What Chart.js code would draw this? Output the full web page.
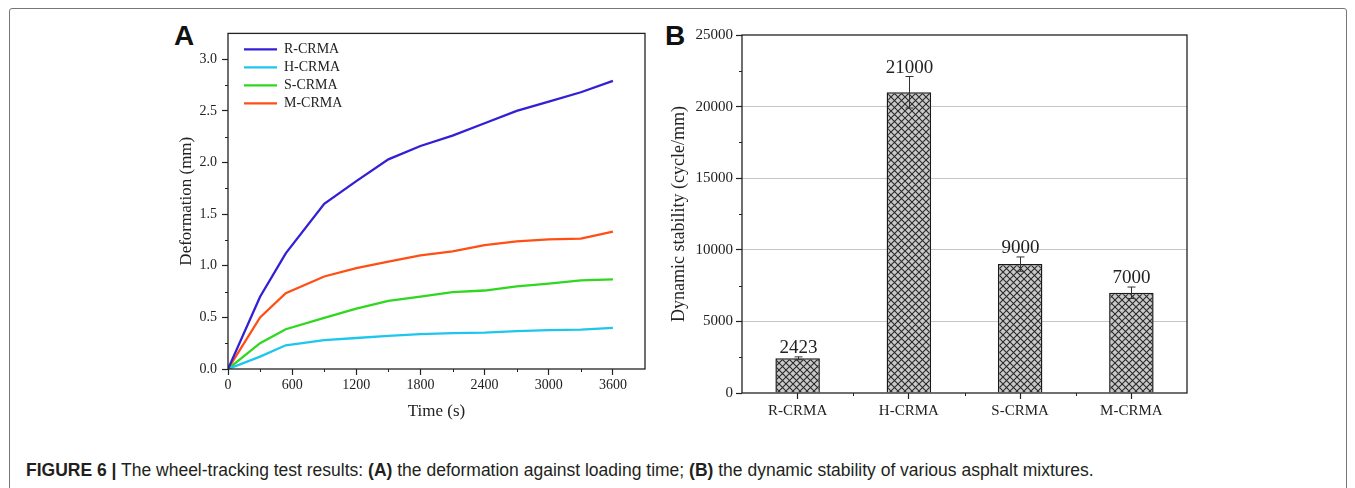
<!DOCTYPE html>
<html>
<head>
<meta charset="utf-8">
<script src="https://cdn.jsdelivr.net/npm/chart.js@4.4.0/dist/chart.umd.min.js"></script>
<style>
  body { margin: 0; width: 1355px; height: 488px; background: #fff; position: relative; overflow: hidden; font-family: "Liberation Sans", Arial, sans-serif; }
  #frame { position: absolute; left: 9px; top: 8px; width: 1336px; height: 500px; border: 1px solid #777; border-radius: 3px; }
  .panel { position: absolute; font: bold 28px/28px "Liberation Sans", Arial, sans-serif; color: #111; }
  .wrap { position: absolute; }
  #caption { position: absolute; left: 26px; top: 462px; font-size: 17.5px; line-height: 17.5px; color: #231f20; white-space: nowrap; }
</style>
</head>
<body>
<div id="frame"></div>
<div class="panel" style="left:174px;top:22px">A</div>
<div class="panel" style="left:665px;top:22px">B</div>
<div class="wrap" style="left:150px;top:20px"><canvas id="chartA" width="510" height="415"></canvas></div>
<div class="wrap" style="left:660px;top:20px"><canvas id="chartB" width="540" height="415"></canvas></div>
<div id="caption"><b>FIGURE 6 |</b> The wheel-tracking test results: <b>(A)</b> the deformation against loading time; <b>(B)</b> the dynamic stability of various asphalt mixtures.</div>
<script>
// panel A: deformation vs time
const times = [0, 300, 540, 900, 1200, 1500, 1800, 2100, 2400, 2700, 3000, 3300, 3600];
const rCrma = [0, 0.70, 1.12, 1.60, 1.82, 2.03, 2.16, 2.26, 2.38, 2.50, 2.59, 2.68, 2.79];
const hCrma = [0, 0.12, 0.23, 0.28, 0.30, 0.32, 0.337, 0.347, 0.353, 0.366, 0.376, 0.382, 0.398];
const sCrma = [0, 0.25, 0.385, 0.495, 0.585, 0.66, 0.70, 0.745, 0.76, 0.80, 0.826, 0.858, 0.867];
const mCrma = [0, 0.50, 0.735, 0.896, 0.976, 1.04, 1.10, 1.14, 1.20, 1.236, 1.256, 1.262, 1.33];
const timeTicks = [0, 600, 1200, 1800, 2400, 3000, 3600];
const timeMinor = [300, 900, 1500, 2100, 2700, 3300];
const deformTicks = [0, 0.5, 1.0, 1.5, 2.0, 2.5, 3.0];
const deformMinor = [0.25, 0.75, 1.25, 1.75, 2.25, 2.75];

// panel B: dynamic stability
const mixtures = ["R-CRMA", "H-CRMA", "S-CRMA", "M-CRMA"];
const stability = [2423, 21000, 9000, 7000];
const stabilityErr = [100, 1100, 500, 400];
const stabilityTicks = [0, 5000, 10000, 15000, 20000, 25000];
const stabilityMinor = [2500, 7500, 12500, 17500, 22500];

const serif = "'Liberation Serif', 'Times New Roman', serif";
const ink = "#222";

const toPoints = (arr) => arr.map((v, i) => ({ x: times[i], y: v }));
const fixTicks = (list) => (s) => { s.ticks = list.map((v) => ({ value: v })); };

// box around the plot + short minor ticks
const frameTicks = {
  id: "frameTicks",
  afterDraw(chart, args, opts) {
    const { ctx, chartArea: a, scales } = chart;
    ctx.save();
    ctx.strokeStyle = ink;
    ctx.lineWidth = 1.3;
    ctx.strokeRect(a.left, a.top, a.right - a.left, a.bottom - a.top);
    ctx.lineWidth = 1;
    ctx.beginPath();
    (opts.minorX || []).forEach((v) => {
      const x = Math.round(scales.x.getPixelForValue(v)) + 0.5;
      ctx.moveTo(x, a.bottom);
      ctx.lineTo(x, a.bottom + 3);
    });
    (opts.minorY || []).forEach((v) => {
      const y = Math.round(scales.y.getPixelForValue(v)) + 0.5;
      ctx.moveTo(a.left, y);
      ctx.lineTo(a.left - 3, y);
    });
    ctx.stroke();
    ctx.restore();
  },
};

// move legend to the upper left inside plot
const legendSpot = {
  id: "legendSpot",
  afterLayout(chart) {
    const lg = chart.legend;
    const a = chart.chartArea;
    lg.left = a.left + 12;
    lg.top = a.top + 5;
    lg.right = lg.left + 150;
    lg.bottom = lg.top + 120;
  },
};

new Chart(document.getElementById("chartA"), {
  type: "line",
  plugins: [frameTicks, legendSpot],
  data: {
    datasets: [
      { label: "R-CRMA", data: toPoints(rCrma), borderColor: "#3320d6", backgroundColor: "#3320d6", borderWidth: 2.3 },
      { label: "H-CRMA", data: toPoints(hCrma), borderColor: "#1ec6ee", backgroundColor: "#1ec6ee", borderWidth: 2.3 },
      { label: "S-CRMA", data: toPoints(sCrma), borderColor: "#2ed81e", backgroundColor: "#2ed81e", borderWidth: 2.3 },
      { label: "M-CRMA", data: toPoints(mCrma), borderColor: "#ff4f14", backgroundColor: "#ff4f14", borderWidth: 2.3 },
    ],
  },
  options: {
    responsive: false,
    animation: false,
    layout: { padding: { top: 12, right: 15, left: 0, bottom: 0 } },
    elements: { point: { radius: 0 }, line: { tension: 0 } },
    scales: {
      x: {
        type: "linear",
        min: 0,
        max: 3900,
        afterFit: (s) => { s.height = 66; },
        afterBuildTicks: fixTicks(timeTicks),
        border: { display: false },
        grid: { drawOnChartArea: false, tickLength: 6, tickColor: ink, tickWidth: 1.2 },
        ticks: { padding: 2, color: ink, font: { family: serif, size: 14 }, callback: (v) => String(v) },
        title: { display: true, text: "Time (s)", color: ink, font: { family: serif, size: 17 }, padding: { top: 0, bottom: 13 } },
      },
      y: {
        min: 0,
        max: 3.25,
        afterFit: (s) => { s.width = 78; },
        afterBuildTicks: fixTicks(deformTicks),
        border: { display: false },
        grid: { drawOnChartArea: false, tickLength: 6, tickColor: ink, tickWidth: 1.2 },
        ticks: { padding: 5, color: ink, font: { family: serif, size: 14 }, callback: (v) => v.toFixed(1) },
        title: { display: true, text: "Deformation (mm)", color: ink, font: { family: serif, size: 17 }, padding: { top: 26, bottom: 0 } },
      },
    },
    plugins: {
      tooltip: { enabled: false },
      legend: {
        position: "chartArea",
        align: "start",
        labels: {
          usePointStyle: true,
          pointStyle: "line",
          pointStyleWidth: 33,
          padding: 4,
          color: ink,
          font: { family: serif, size: 14 },
        },
      },
      frameTicks: { minorX: timeMinor, minorY: deformMinor },
    },
  },
});

// cross-hatch fill for the bars
const tile = document.createElement("canvas");
tile.width = 7;
tile.height = 7;
const tctx = tile.getContext("2d");
tctx.fillStyle = "#c9c9c9";
tctx.fillRect(0, 0, 7, 7);
tctx.strokeStyle = "#2a2a2a";
tctx.lineWidth = 1.1;
tctx.beginPath();
tctx.moveTo(-1, -1); tctx.lineTo(8, 8);
tctx.moveTo(-1, 8); tctx.lineTo(8, -1);
tctx.stroke();
const hatch = tctx.createPattern(tile, "repeat");

const errorBars = {
  id: "errorBars",
  afterDatasetsDraw(chart) {
    const { ctx, scales } = chart;
    const meta = chart.getDatasetMeta(0);
    ctx.save();
    ctx.strokeStyle = "#333";
    ctx.lineWidth = 1;
    ctx.fillStyle = ink;
    ctx.font = "19px " + serif;
    ctx.textAlign = "center";
    ctx.textBaseline = "middle";
    meta.data.forEach((bar, i) => {
      const x = Math.round(bar.x) + 0.5;
      const top = scales.y.getPixelForValue(stability[i] + stabilityErr[i]);
      const bot = scales.y.getPixelForValue(stability[i] - stabilityErr[i]);
      ctx.beginPath();
      ctx.moveTo(x, top); ctx.lineTo(x, bot);
      ctx.moveTo(x - 4, top); ctx.lineTo(x + 4, top);
      ctx.moveTo(x - 4, bot); ctx.lineTo(x + 4, bot);
      ctx.stroke();
      ctx.fillText(String(stability[i]), x, top - 9);
    });
    ctx.restore();
  },
};

new Chart(document.getElementById("chartB"), {
  type: "bar",
  plugins: [frameTicks, errorBars],
  data: {
    labels: mixtures,
    datasets: [{
      data: stability,
      backgroundColor: hatch,
      borderColor: "#1a1a1a",
      borderWidth: 1.5,
      barPercentage: 0.4,
      categoryPercentage: 1,
    }],
  },
  options: {
    responsive: false,
    animation: false,
    layout: { padding: { top: 15, right: 13, left: 0, bottom: 0 } },
    scales: {
      x: {
        afterFit: (s) => { s.height = 42; },
        border: { display: false },
        grid: { drawOnChartArea: false, offset: false, tickLength: 6, tickColor: ink, tickWidth: 1.2 },
        ticks: { padding: 3, color: ink, font: { family: serif, size: 15 } },
      },
      y: {
        min: 0,
        max: 25000,
        afterFit: (s) => { s.width = 82; },
        afterBuildTicks: fixTicks(stabilityTicks),
        border: { display: false },
        grid: {
          color: (c) => (c.tick && (c.tick.value === 0 || c.tick.value === 25000) ? "rgba(0,0,0,0)" : "#c6c6c6"),
          tickLength: 6,
          tickColor: ink,
          tickWidth: 1.2,
        },
        ticks: { padding: 3, color: ink, font: { family: serif, size: 15 }, callback: (v) => String(v) },
        title: { display: true, text: "Dynamic stability (cycle/mm)", color: ink, font: { family: serif, size: 18 }, padding: { top: 8, bottom: 0 } },
      },
    },
    plugins: {
      tooltip: { enabled: false },
      legend: { display: false },
      frameTicks: { minorX: [0.5, 1.5, 2.5], minorY: stabilityMinor },
    },
  },
});
</script>
</body>
</html>
